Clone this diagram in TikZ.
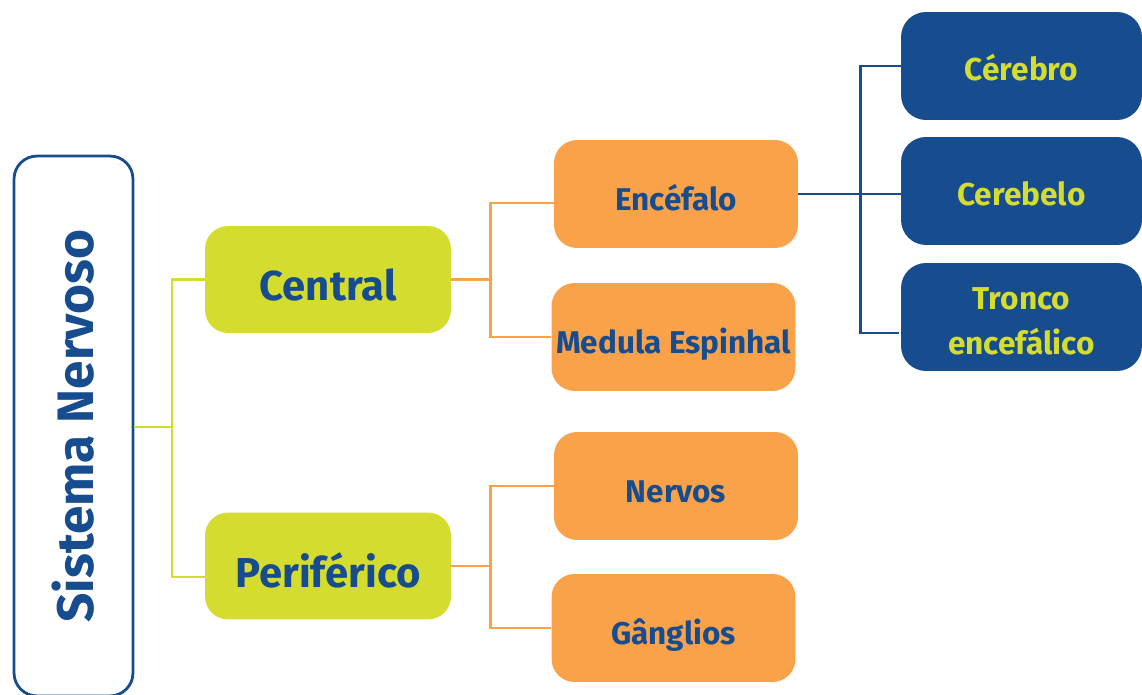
\documentclass[tikz,border=0pt]{standalone}
\usepackage{fontspec}
\setmainfont{Fira Sans}
\usetikzlibrary{positioning}

\definecolor{snblue}{HTML}{174C8F}
\definecolor{snlime}{HTML}{D4DD2F}
\definecolor{snorange}{HTML}{F9A24A}

\tikzset{
  mainbox/.style={draw=snblue, line width=1.6pt, rounded corners=0.46cm,
    minimum width=2.38cm, minimum height=10.8cm, inner sep=0pt,
    text=snblue, font=\bfseries\fontsize{29.2}{35}\selectfont},
  limebox/.style={fill=snlime, rounded corners=0.46cm, inner sep=0pt,
    minimum width=4.92cm, minimum height=2.14cm,
    text height=24pt, text depth=0pt,
    text=snblue, font=\bfseries\fontsize{23.8}{28}\selectfont},
  orangebox/.style={fill=snorange, rounded corners=0.46cm, inner sep=0pt,
    minimum width=4.88cm, minimum height=2.16cm,
    text height=18.8pt, text depth=0pt,
    text=snblue, font=\bfseries\fontsize{17.9}{21}\selectfont},
  bluebox/.style={fill=snblue, rounded corners=0.5cm, inner sep=0pt,
    minimum width=4.82cm, minimum height=2.16cm, align=center,
    text height=17pt, text depth=0pt,
    text=snlime, font=\bfseries\fontsize{18}{26}\selectfont},
  limeline/.style={draw=snlime, line width=1.6pt},
  orangeline/.style={draw=snorange, line width=1.6pt},
  blueline/.style={draw=snblue, line width=1.6pt}
}

\begin{document}
\begin{tikzpicture}[x=0.02cm, y=-0.02cm]
  \useasboundingbox (0,0) rectangle (1142,695);

  % main box
  \node[mainbox] (sn) at (73.5,426) {\rotatebox{90}{Sistema Nervoso}};

  % first level
  \node[limebox] (cen) at (328,279.5) {Central};
  \node[limebox] (per) at (328,566) {Periférico};

  % second level
  \node[orangebox] (enc) at (676,194) {Encéfalo};
  \node[orangebox] (med) at (673.5,337) {Medula Espinhal};
  \node[orangebox] (ner) at (676,486) {Nervos};
  \node[orangebox] (gan) at (673.5,628) {Gânglios};

  % third level
  \node[bluebox] (cer) at (1021.5,66) {Cérebro};
  \node[bluebox] (cbl) at (1021.5,191) {Cerebelo};
  \node[bluebox, text height=43pt] (tro) at (1021.5,317) {Tronco\\encefálico};

  % connectors
  \coordinate (gj) at (172,427);
  \draw[limeline] (sn.east |- gj) -- (gj);
  \draw[limeline] (cen.west) -| (gj) |- (per.west |- 0,577);

  \draw[orangeline] (cen.east) -- ++(39,0) coordinate (oj1);
  \draw[orangeline] (enc.west |- 0,203) -| (oj1) |- (med.west);
  \draw[orangeline] (per.east) -- ++(39,0) coordinate (oj2);
  \draw[orangeline] (ner.west) -| (oj2) |- (gan.west);

  \draw[blueline] (enc.east) -- (enc.east -| cbl.west);
  \draw[blueline] (cer.west) -| ++(-40,267) -- ++(38,0);
\end{tikzpicture}
\end{document}
